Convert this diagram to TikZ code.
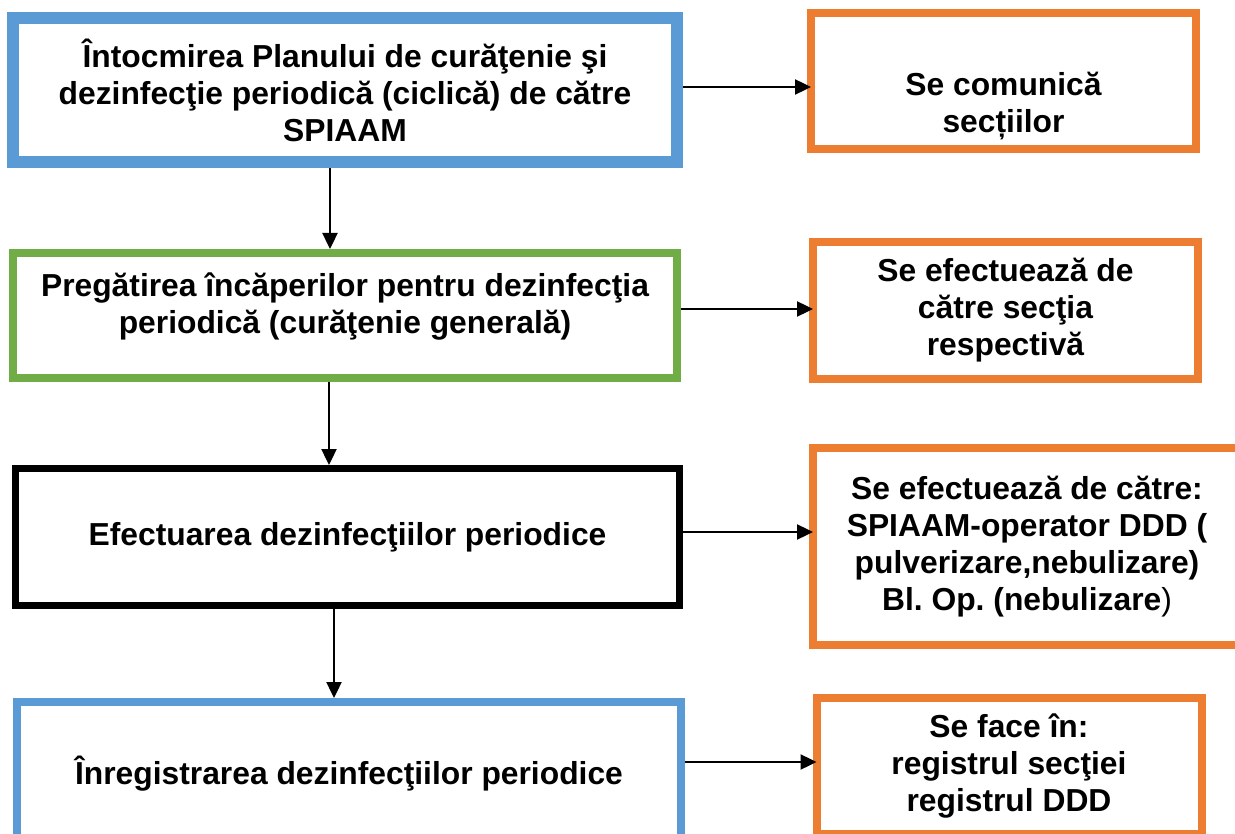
\documentclass[tikz,border=0pt]{standalone}
\usepackage{fontspec}
\setmainfont{Liberation Sans}
\usetikzlibrary{arrows.meta}

\definecolor{planblue}{HTML}{5B9BD5}
\definecolor{prepgreen}{HTML}{70AD47}
\definecolor{noteorange}{HTML}{ED7D31}

\begin{document}
\frenchspacing
\begin{tikzpicture}[x=1pt, y=-1pt,
  box/.style={rectangle, inner sep=0pt, align=center,
    font=\fontsize{31.8}{37}\selectfont\bfseries},
  stepbox/.style={box, minimum width=664pt},
  notebox/.style={box, draw=noteorange, line width=8pt, minimum width=385pt},
  arrow/.style={-{Triangle[length=16pt,width=15pt]}, line width=2.4pt},
  sidearrow/.style={arrow, shorten >=-4pt}]

\useasboundingbox (0,0) rectangle (1235,834);

% Steps on the left
\node[stepbox, draw=planblue, line width=12pt, minimum height=144pt] (plan) at (345,90)
  {Întocmirea Planului de curăţenie şi\\dezinfecţie periodică (ciclică) de către\\SPIAAM};
\node[stepbox, draw=prepgreen, line width=8pt, minimum height=125pt] (prep) at (345,315.5)
  {Pregătirea încăperilor pentru dezinfecţia\\periodică (curăţenie generală)\\[-12pt]\mbox{}};
\node[stepbox, draw=black, line width=7pt, minimum height=137pt] (apply) at (347.5,537)
  {Efectuarea dezinfecţiilor periodice};
\node[stepbox, draw=planblue, line width=8pt, minimum height=144pt] (record) at (349,774)
  {Înregistrarea dezinfecţiilor periodice};

% Notes on the right
\node[notebox, minimum height=136pt] (inform) at (1003.5,81)
  {\mbox{}\\\mbox{}\\Se comunică\\secțiilor};
\node[notebox, minimum height=137pt] (section) at (1005.5,310.5)
  {Se efectuează de\\către secţia\\respectivă};
\node[notebox, minimum width=428pt, minimum height=197pt] (operator) at (1027,546.5)
  {Se efectuează de către:\\SPIAAM-operator DDD (\\pulverizare,nebulizare)\\Bl. Op. (nebulizare{\mdseries )}};
\node[notebox, minimum height=136pt] (register) at (1009,766)
  {Se face în:\\registrul secţiei\\registrul DDD};

% Flow down the steps
\draw[arrow] ([xshift=-15pt]plan.south) -- ([xshift=-15pt]plan.south |- prep.north);
\draw[arrow] ([xshift=-16pt]prep.south) -- ([xshift=-16pt]prep.south |- apply.north);
\draw[arrow] ([xshift=-13.5pt]apply.south) -- ([xshift=-13.5pt]apply.south |- record.north);

% Each step to its note
\draw[sidearrow] ([yshift=3pt]plan.east) -- ([yshift=3pt]plan.east -| inform.west);
\draw[sidearrow] ([yshift=6.5pt]prep.east) -- ([yshift=6.5pt]prep.east -| section.west);
\draw[sidearrow] ([yshift=5pt]apply.east) -- ([yshift=5pt]apply.east -| operator.west);
\draw[sidearrow] ([yshift=12pt]record.east) -- ([yshift=12pt]record.east -| register.west);

\end{tikzpicture}
\end{document}
